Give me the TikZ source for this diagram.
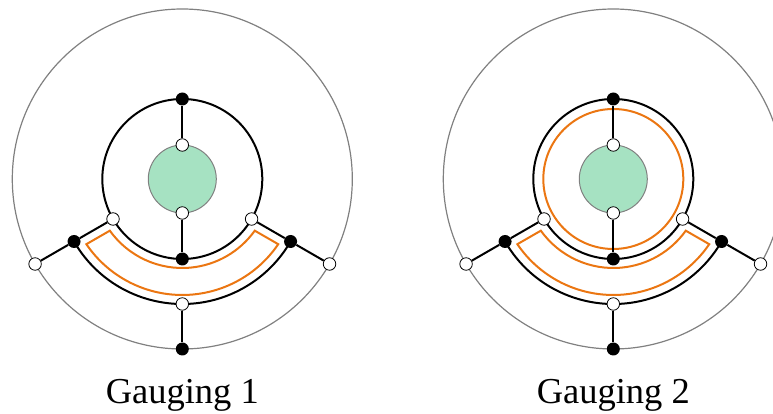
\documentclass[tikz,border=0pt]{standalone}
\usepackage{fontspec}
\setmainfont{Liberation Serif}
\definecolor{defectgreen}{RGB}{166,226,194}
\definecolor{gaugeorange}{RGB}{235,118,18}
\tikzstyle{bdot}     = [circle, fill=black, inner sep=0pt, minimum size=13pt]
\tikzstyle{wdot}     = [circle, draw=black, fill=white, line width=0.8pt, inner sep=0pt, minimum size=12.5pt]
\tikzstyle{edge}     = [draw, line width=2pt]
\tikzstyle{boundary} = [draw=gray, line width=1.2pt]
\tikzstyle{defect}   = [draw=gray, fill=defectgreen, line width=1pt]
\tikzstyle{gauge}    = [draw=gaugeorange, line width=2pt]

\begin{document}
\begin{tikzpicture}[x=1pt, y=1pt]
    \useasboundingbox (0,0) rectangle (773,414);
    \foreach \g/\cx in {1/182.3, 2/613.3} {
        \begin{scope}[shift={(\cx,235)}]
            % circles and arcs
            \path[boundary] (0,0) circle[radius=170];
            \path[defect] (0,0) circle[radius=34];
            \path[edge] (0,0) circle[radius=80];
            \path[edge] (210:125) arc[start angle=210, end angle=330, radius=125];
            \path[gauge] (215.5:89) arc[start angle=215.5, end angle=324.5, radius=89]
                -- (325.8:116) arc[start angle=325.8, end angle=214.2, radius=116] -- cycle;
            \ifnum\g=2 \path[gauge] (0,0) circle[radius=70]; \fi

            % vertices
            \node[wdot] (g90-\g)  at (90:34)   {};
            \node[wdot] (g270-\g) at (270:34)  {};
            \node[bdot] (i90-\g)  at (90:80)   {};
            \node[bdot] (i270-\g) at (270:80)  {};
            \node[wdot] (i210-\g) at (210:80)  {};
            \node[wdot] (i330-\g) at (330:80)  {};
            \node[bdot] (m210-\g) at (210:125) {};
            \node[wdot] (m270-\g) at (270:125) {};
            \node[bdot] (m330-\g) at (330:125) {};
            \node[wdot] (o210-\g) at (210:170) {};
            \node[bdot] (o270-\g) at (270:170) {};
            \node[wdot] (o330-\g) at (330:170) {};

            % edges
            \path[edge] (g90-\g) -- (i90-\g);
            \path[edge] (g270-\g) -- (i270-\g);
            \path[edge] (i210-\g) -- (m210-\g) -- (o210-\g);
            \path[edge] (i330-\g) -- (m330-\g) -- (o330-\g);
            \path[edge] (m270-\g) -- (o270-\g);
        \end{scope}
        \node[anchor=base, font=\fontsize{36.5}{42}\selectfont] (label-\g) at (\cx,10.7) {Gauging \g};
    }
\end{tikzpicture}
\end{document}
